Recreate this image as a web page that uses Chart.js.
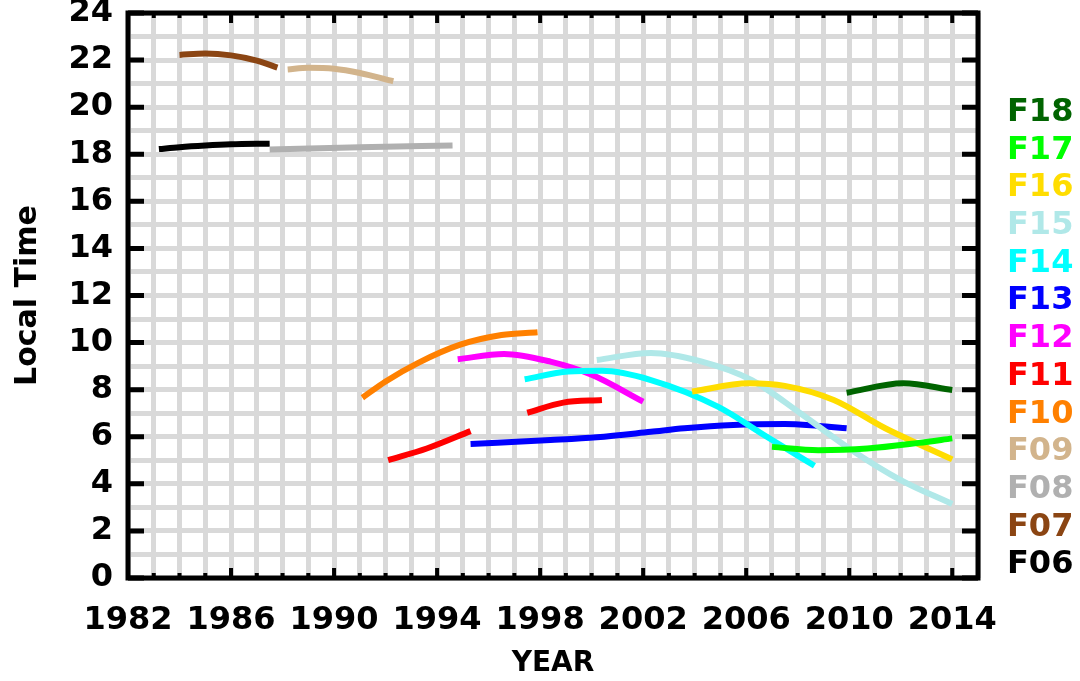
<!DOCTYPE html>
<html>
<head>
<meta charset="utf-8">
<script src="https://cdn.jsdelivr.net/npm/chart.js@4"></script>
<style>
  html, body { margin: 0; padding: 0; background: #fff; }
</style>
</head>
<body>
<canvas id="ltChart" width="1080" height="681"></canvas>
<script>
// satellite names, top to bottom as in the key on the right
const satNames = ['F18', 'F17', 'F16', 'F15', 'F14', 'F13', 'F12', 'F11', 'F10', 'F09', 'F08', 'F07', 'F06'];
const satColors = ['#006400', '#00ff00', '#ffdd00', '#b0e8e8', '#00ffff', '#0000ff', '#ff00ff', '#ff0000', '#ff8000', '#d2b48c', '#b0b0b0', '#8b4513', '#000000'];

// [year, local time]
const f18 = [[2009.9, 7.87], [2012.1, 8.27], [2014, 7.99]];
const f17 = [[2007, 5.57], [2008.8, 5.43], [2010.7, 5.5], [2012.7, 5.74], [2014, 5.93]];
const f16 = [[2003.9, 7.92], [2006.1, 8.27], [2007.5, 8.16], [2009.4, 7.56], [2011.4, 6.36], [2014, 5.04]];
const f15 = [[2000.2, 9.26], [2002.3, 9.56], [2004.25, 9.2], [2006.2, 8.41], [2008.1, 7.0], [2010.1, 5.43], [2012, 4.16], [2014, 3.14]];
const f14 = [[1997.4, 8.44], [1999.1, 8.77], [2000.4, 8.8], [2002.3, 8.41], [2004.9, 7.28], [2006.8, 6.0], [2008.65, 4.77]];
const f13 = [[1995.3, 5.69], [1998.4, 5.86], [2000.2, 5.98], [2002.3, 6.21], [2003.6, 6.36], [2005.5, 6.5], [2007.5, 6.54], [2008.8, 6.46], [2009.9, 6.36]];
const f12 = [[1994.8, 9.29], [1996.6, 9.52], [1998.4, 9.19], [2000, 8.63], [2002, 7.49]];
const f11 = [[1992.1, 5.01], [1993.6, 5.5], [1995.3, 6.24], [1996.4, null], [1997.5, 7.02], [1998.9, 7.45], [2000.4, 7.56]];
const f10 = [[1991.1, 7.66], [1992, 8.35], [1993.25, 9.13], [1994.9, 9.91], [1996.5, 10.32], [1997.9, 10.44]];
const f09 = [[1988.2, 21.6], [1989, 21.67], [1990, 21.63], [1991, 21.45], [1992.3, 21.1]];
const f08 = [[1987.5, 18.2], [1991, 18.3], [1994.6, 18.37]];
const f07 = [[1984, 22.22], [1985, 22.28], [1986, 22.2], [1987, 21.98], [1987.8, 21.68]];
const f06 = [[1983.2, 18.22], [1984, 18.3], [1985, 18.37], [1986, 18.42], [1987.5, 18.45]];

const seriesList = [f18, f17, f16, f15, f14, f13, f12, f11, f10, f09, f08, f07, f06];

const yearMin = 1982, yearMax = 2015, lastLabel = 2014;
const timeMin = 0, timeMax = 24;

const FONT = 'DejaVu Sans';

const datasets = seriesList.map((s, i) => ({
  label: satNames[i],
  data: s.map(p => ({ x: p[0], y: p[1] })),
  borderColor: satColors[i],
  backgroundColor: satColors[i],
  borderWidth: 6,
  pointRadius: 0,
  tension: 0.4,
  cubicInterpolationMode: 'monotone',
  spanGaps: false
}));

// frame, inward ticks and the coloured key
const framePlugin = {
  id: 'frame',
  afterDraw(chart) {
    const c = chart.ctx;
    const a = chart.chartArea;
    const xs = chart.scales.x, ys = chart.scales.y;
    c.save();
    c.strokeStyle = '#000';
    c.lineCap = 'butt';

    // year ticks top and bottom
    c.lineWidth = 4;
    for (let yr = yearMin; yr <= yearMax; yr++) {
      const px = xs.getPixelForValue(yr);
      const len = (yr - yearMin) % 4 === 0 ? 10 : 5;
      c.beginPath();
      c.moveTo(px, a.bottom); c.lineTo(px, a.bottom - len);
      c.moveTo(px, a.top); c.lineTo(px, a.top + len);
      c.stroke();
    }
    // hour ticks left and right
    c.lineWidth = 5;
    for (let t = timeMin; t <= timeMax; t += 2) {
      const py = ys.getPixelForValue(t);
      c.beginPath();
      c.moveTo(a.left, py); c.lineTo(a.left + 16, py);
      c.moveTo(a.right, py); c.lineTo(a.right - 16, py);
      c.stroke();
    }
    c.lineWidth = 5;
    c.strokeRect(a.left, a.top, a.right - a.left, a.bottom - a.top);

    // key
    c.font = 'bold 32px ' + FONT;
    c.textAlign = 'left';
    c.textBaseline = 'middle';
    const n = chart.data.datasets.length;
    chart.data.datasets.forEach((ds, i) => {
      const y = 565 - (n - 1 - i) * 37.7;
      c.fillStyle = ds.borderColor;
      c.fillText(ds.label, 1007, y);
    });
    c.restore();
  }
};

const ctx = document.getElementById('ltChart').getContext('2d');

new Chart(ctx, {
  type: 'line',
  data: { datasets: datasets },
  options: {
    responsive: false,
    animation: false,
    layout: { padding: { left: 0, right: 102, top: 13, bottom: 0 } },
    plugins: {
      legend: { display: false },
      tooltip: { enabled: false }
    },
    scales: {
      x: {
        type: 'linear',
        min: yearMin,
        max: yearMax,
        afterFit(scale) { scale.height = 103; },
        afterBuildTicks(scale) {
          const t = [];
          for (let yr = yearMin; yr <= yearMax; yr++) t.push({ value: yr });
          scale.ticks = t;
        },
        ticks: {
          autoSkip: false,
          maxRotation: 0,
          padding: 23,
          color: '#000',
          font: { family: FONT, size: 32, weight: 'bold' },
          callback: v => ((v - yearMin) % 4 === 0 && v <= lastLabel) ? String(v) : ''
        },
        grid: { color: '#d9d9d9', lineWidth: 5, drawTicks: false },
        border: { display: false },
        title: {
          display: true,
          text: 'YEAR',
          color: '#000',
          font: { family: FONT, size: 28, weight: 'bold' },
          padding: { top: 0, bottom: 0 }
        }
      },
      y: {
        min: timeMin,
        max: timeMax,
        afterFit(scale) {
          scale.width = 128;
          scale.paddingTop = 0;
          scale.paddingBottom = 0;
        },
        ticks: {
          stepSize: 1,
          autoSkip: false,
          padding: 15,
          color: '#000',
          font: { family: FONT, size: 32, weight: 'bold' },
          callback: v => v % 2 === 0 ? String(v) : ''
        },
        grid: { color: '#d9d9d9', lineWidth: 5, drawTicks: false },
        border: { display: false },
        title: {
          display: true,
          text: 'Local Time',
          color: '#000',
          font: { family: FONT, size: 30, weight: 'bold' },
          padding: { top: 10, bottom: 0 }
        }
      }
    }
  },
  plugins: [framePlugin]
});
</script>
</body>
</html>
